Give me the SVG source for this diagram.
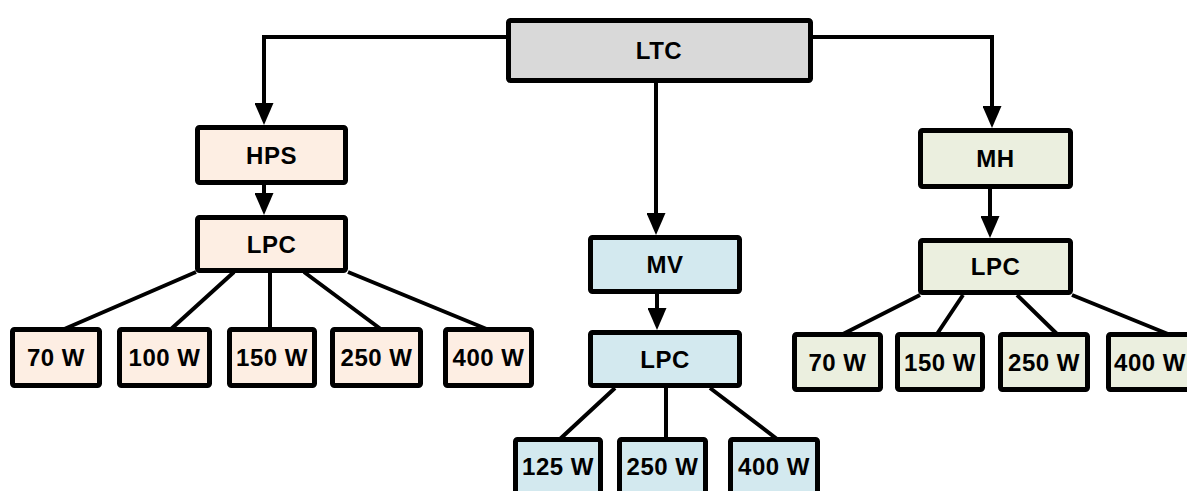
<svg xmlns="http://www.w3.org/2000/svg" width="1187" height="491" viewBox="0 0 1187 491">
<style>
.box{stroke:#000;stroke-width:5;stroke-linejoin:round}
.top{fill:#d9d9d9}
.hps{fill:#fdeee3}
.mv{fill:#d3e9ef}
.mh{fill:#ebefdf}
.lbl{font-family:"Liberation Sans",Arial,sans-serif;font-weight:bold;font-size:24px;letter-spacing:0.5px;fill:#000;text-anchor:middle}
.con{fill:none;stroke:#000;stroke-width:4}
</style>
<defs>
<marker id="arr" markerUnits="userSpaceOnUse" markerWidth="22" markerHeight="19" viewBox="0 0 22 19" refX="1" refY="9.5" orient="auto">
<path d="M0,0 L22,9.5 L0,19 z" fill="#000"/>
</marker>
</defs>
<rect width="1187" height="491" fill="#fff"/>
<g id="connectors">
<path class="con" d="M508,37 H264 V104" marker-end="url(#arr)"/>
<path class="con" d="M811,37 H992 V107" marker-end="url(#arr)"/>
<path class="con" d="M656,83 V214" marker-end="url(#arr)"/>
<path class="con" d="M264,185 V194" marker-end="url(#arr)"/>
<path class="con" d="M657,294 V309" marker-end="url(#arr)"/>
<path class="con" d="M990,189 V217" marker-end="url(#arr)"/>
<path class="con" d="M196,272 L62,330 M234,272 L170,330 M270,272 L270,330 M304,272 L382,330 M348,272 L489,330"/>
<path class="con" d="M615,388 L560,439 M666,388 L666,439 M710,388 L777,439"/>
<path class="con" d="M920,295 L843,334 M963,295 L937,334 M1017,295 L1057,334 M1072,295 L1168,334"/>
</g>
<g id="ltc"><rect class="box top" x="508.5" y="20.5" width="302" height="60" rx="2"/><text class="lbl" x="659" y="59">LTC</text></g>
<g id="hps"><rect class="box hps" x="197.5" y="127.5" width="148" height="55" rx="2"/><text class="lbl" x="271.5" y="163.5">HPS</text></g>
<g id="hps-lpc"><rect class="box hps" x="197.5" y="217.5" width="148" height="53" rx="2"/><text class="lbl" x="271.5" y="252.5">LPC</text></g>
<g id="hps-70"><rect class="box hps" x="12.5" y="329.5" width="87" height="56" rx="2"/><text class="lbl" x="56" y="366">70 W</text></g>
<g id="hps-100"><rect class="box hps" x="119.5" y="329.5" width="90" height="56" rx="2"/><text class="lbl" x="164.5" y="366">100 W</text></g>
<g id="hps-150"><rect class="box hps" x="229.5" y="329.5" width="85" height="56" rx="2"/><text class="lbl" x="272" y="366">150 W</text></g>
<g id="hps-250"><rect class="box hps" x="332.5" y="329.5" width="88" height="56" rx="2"/><text class="lbl" x="376.5" y="366">250 W</text></g>
<g id="hps-400"><rect class="box hps" x="445.5" y="329.5" width="86" height="56" rx="2"/><text class="lbl" x="488.5" y="366">400 W</text></g>
<g id="mv"><rect class="box mv" x="590.5" y="237.5" width="149" height="54" rx="2"/><text class="lbl" x="665" y="273">MV</text></g>
<g id="mv-lpc"><rect class="box mv" x="590.5" y="332.5" width="149" height="53" rx="2"/><text class="lbl" x="665" y="367.5">LPC</text></g>
<g id="mv-125"><rect class="box mv" x="515.5" y="439.5" width="85" height="56" rx="2"/><text class="lbl" x="558" y="475">125 W</text></g>
<g id="mv-250"><rect class="box mv" x="619.5" y="439.5" width="86" height="56" rx="2"/><text class="lbl" x="662.5" y="475">250 W</text></g>
<g id="mv-400"><rect class="box mv" x="730.5" y="439.5" width="87" height="56" rx="2"/><text class="lbl" x="774" y="475">400 W</text></g>
<g id="mh"><rect class="box mh" x="920.5" y="130.5" width="150" height="56" rx="2"/><text class="lbl" x="995.5" y="167">MH</text></g>
<g id="mh-lpc"><rect class="box mh" x="920.5" y="240.5" width="150" height="52" rx="2"/><text class="lbl" x="995.5" y="275">LPC</text></g>
<g id="mh-70"><rect class="box mh" x="794.5" y="334.5" width="86" height="55" rx="2"/><text class="lbl" x="837.5" y="370.5">70 W</text></g>
<g id="mh-150"><rect class="box mh" x="897.5" y="334.5" width="85" height="55" rx="2"/><text class="lbl" x="940" y="370.5">150 W</text></g>
<g id="mh-250"><rect class="box mh" x="1000.5" y="334.5" width="87" height="55" rx="2"/><text class="lbl" x="1044" y="370.5">250 W</text></g>
<g id="mh-400"><rect class="box mh" x="1108.5" y="334.5" width="83" height="55" rx="2"/><text class="lbl" x="1150" y="370.5">400 W</text></g>
</svg>
